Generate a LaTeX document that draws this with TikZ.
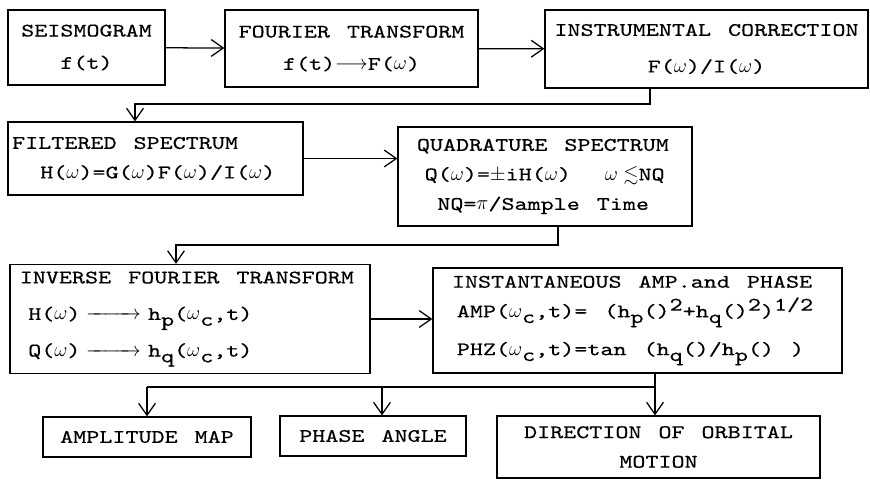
\documentclass[tikz,border=0pt]{standalone}
\usepackage{amsmath,amssymb}
\usepackage{fontspec}
\usepackage{tikz}
\usetikzlibrary{arrows.meta}

\newfontfamily\typer{lmmono10-regular.otf}[FakeStretch=1.3, FakeBold=0.45, WordSpace=1.3]
\newcommand{\lo}[1]{\raisebox{-.7ex}{#1}}
\newcommand{\hi}[1]{\raisebox{.8ex}{#1}}

\begin{document}
\begin{tikzpicture}[
    x=0.025cm, y=-0.025cm,
    box/.style={rectangle, draw, line width=0.9pt, inner sep=0pt, align=center, font=\typer\fontsize{13.6}{21}\selectfont},
    leftbox/.style={box, align=flush left},
    arrow/.style={-{Straight Barb[length=3mm, width=4.2mm]}, line width=0.9pt},
    link/.style={line width=0.9pt}
]
    \useasboundingbox (0,0) rectangle (870,480);

    % top row
    \node [box, minimum width=3.925cm, minimum height=1.875cm] (seismo) at (86.5,47.5) {SEISMOGRAM\\[2pt]f(t)};
    \node [box, minimum width=6.325cm, minimum height=1.925cm] (fourier) at (351.5,48.5) {FOURIER TRANSFORM\\[2pt]f(t)$\longrightarrow$F($\omega$)};
    \node [box, minimum width=8.075cm, minimum height=1.95cm] (instr) at (706.5,49) {INSTRUMENTAL CORRECTION\\[5pt]F($\omega$)/I($\omega$)};

    % second row
    \node [leftbox, text width=7.375cm, minimum height=1.825cm] (filtered) at (155.5,158.5) {\hspace*{3pt}FILTERED SPECTRUM\\\hspace*{23pt}H($\omega$)=G($\omega$)F($\omega$)/I($\omega$)};
    \node [leftbox, text width=7.35cm, minimum height=2.475cm] (quad) at (545,176.5) {\hspace*{13.5pt}QUADRATURE SPECTRUM\\\hspace*{19pt}Q($\omega$)=$\pm$iH($\omega$)\ \ $\omega\lesssim$NQ\\\hspace*{28pt}NQ=$\pi$/Sample Time};

    % third row
    \node [leftbox, text width=9cm, minimum height=2.725cm] (inverse) at (190,319) {\hspace*{7pt}INVERSE FOURIER TRANSFORM\\[5pt]\hspace*{13pt}H($\omega$)\hspace{4pt}$\xrightarrow{\hspace{2.3em}}$\hspace{5pt}h\lo{p}($\omega$\lo{c},t)\\[5pt]\hspace*{13pt}Q($\omega$)\hspace{4pt}$\xrightarrow{\hspace{2.3em}}$\hspace{5pt}h\lo{q}($\omega$\lo{c},t)};
    \node [leftbox, text width=10.225cm, minimum height=2.625cm] (inst) at (637.5,320.5) {\hspace*{13.5pt}INSTANTANEOUS AMP.and PHASE\\\hspace*{17pt}AMP($\omega$\lo{c},t)= (h\lo{p}()\hi{2}+h\lo{q}()\hi{2})\hi{1/2}\\[6pt]\hspace*{17pt}PHZ($\omega$\lo{c},t)=tan (h\lo{q}()/h\lo{p}() )};

    % results
    \node [box, minimum width=5.2cm, minimum height=1cm] (ampmap) at (147,437) {AMPLITUDE MAP};
    \node [box, minimum width=4.65cm, minimum height=1cm] (phase) at (373,436) {PHASE ANGLE};
    \node [box, minimum width=8.075cm, minimum height=1.55cm] (orbit) at (658.5,447) {DIRECTION OF ORBITAL\\MOTION};

    \coordinate (k1) at (650,104);
    \coordinate (k2) at (135,104);
    \coordinate (k3) at (558,245);
    \coordinate (k4) at (176,245);
    \coordinate (b1) at (147,387);
    \coordinate (b2) at (382,387);
    \coordinate (b3) at (655,387);

    \draw [arrow] (seismo) -- (fourier);
    \draw [arrow] (fourier) -- (instr);
    \draw [arrow] (instr.south -| k1) -- (k1) -- (k2) -- (filtered.north -| k2);
    \draw [arrow] (filtered.east) -- (filtered.east -| quad.west);
    \draw [arrow] (quad.south -| k3) -- (k3) -- (k4) -- (inverse.north -| k4);
    \draw [arrow] (inverse.east) -- (inverse.east -| inst.west);
    \draw [link] (inst.south -| b3) -- (b3) -- (b1);
    \draw [arrow] (b1) -- (ampmap);
    \draw [arrow] (b2) -- (phase.north -| b2);
    \draw [arrow] (b3) -- (orbit.north -| b3);
\end{tikzpicture}
\end{document}
